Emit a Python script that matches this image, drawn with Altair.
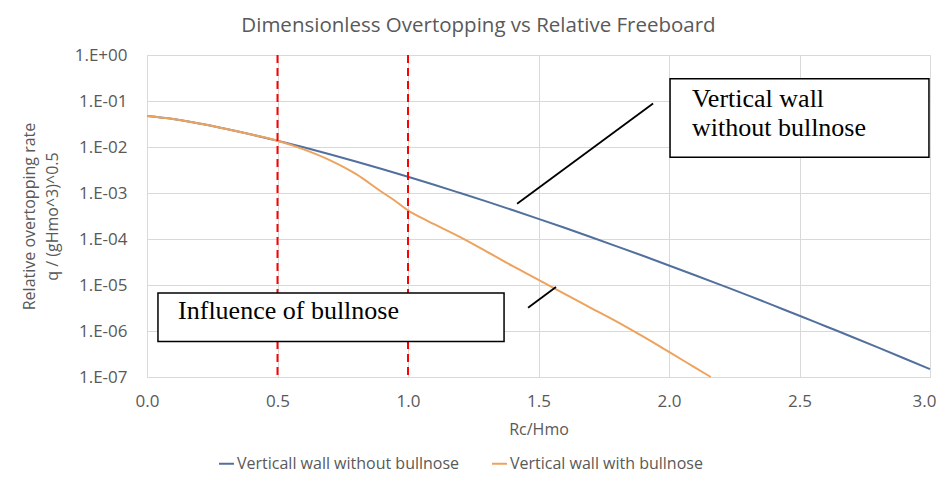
import altair as alt
import pandas as pd

# ---- data ----
rc_plain = [0.0, 0.1, 0.2, 0.3, 0.4, 0.5, 0.6, 0.7, 0.8, 0.9, 1.0, 1.1, 1.2, 1.3, 1.4, 1.5,
            1.6, 1.7, 1.8, 1.9, 2.0, 2.1, 2.2, 2.3, 2.4, 2.5, 2.6, 2.7, 2.8, 2.9, 3.0]
q_plain = [0.047, 0.0404, 0.0323, 0.0249, 0.01868, 0.0137, 0.00985, 0.00696, 0.00485, 0.00333,
           0.00226, 0.001515, 0.0010, 6.56e-4, 4.26e-4, 2.74e-4, 1.75e-4, 1.106e-4, 6.93e-5,
           4.31e-5, 2.66e-5, 1.63e-5, 9.93e-6, 6.03e-6, 3.6e-6, 2.15e-6, 1.27e-6, 7.51e-7,
           4.4e-7, 2.56e-7, 1.48e-7]

rc_bull = [0.0, 0.1, 0.2, 0.3, 0.4, 0.5, 0.6, 0.7, 0.8, 0.9, 0.95, 1.0, 1.05, 1.1, 1.2, 1.3,
           1.4, 1.5, 1.6, 1.7, 1.8, 1.9, 2.0, 2.1, 2.16]
q_bull = [0.047, 0.0404, 0.0323, 0.0249, 0.01868, 0.0137, 0.0089, 0.0052, 0.0026, 0.00105,
          0.00068, 0.00042, 0.00029, 0.00021, 1.1e-4, 5.4e-5, 2.6e-5, 1.3e-5, 6.4e-6, 3.2e-6,
          1.6e-6, 7.6e-7, 3.5e-7, 1.6e-7, 1.0e-7]

series_names = ["Verticall wall without bullnose", "Vertical wall with bullnose"]
series_colors = ["#52709e", "#eda35e"]

x_ticks = [0.0, 0.5, 1.0, 1.5, 2.0, 2.5, 3.0]
y_ticks = [1e-7, 1e-6, 1e-5, 1e-4, 1e-3, 1e-2, 1e-1, 1.0]

marker_rc = [0.5, 1.0]

# annotation boxes (data coordinates)
box_x = [2.004, 0.042]
box_x2 = [2.996, 1.368]
box_y = [0.304, 6.7e-6]
box_y2 = [6.0e-3, 5.9e-7]

note_text = ["Vertical wall", "without bullnose", "Influence of bullnose"]
note_x = [2.088, 2.088, 0.119]
note_y = [0.0759, 0.0171, 1.78e-6]

leader_x = [1.939, 1.460]
leader_x2 = [1.418, 1.567]
leader_y = [0.0879, 3.19e-6]
leader_y2 = [5.85e-4, 9.06e-6]

# ---- tables ----
df = pd.concat([
    pd.DataFrame({"rc": rc_plain, "q": q_plain, "series": series_names[0]}),
    pd.DataFrame({"rc": rc_bull, "q": q_bull, "series": series_names[1]}),
])
df_mark = pd.DataFrame({"rc": marker_rc})
df_box = pd.DataFrame({"x": box_x, "x2": box_x2, "y": box_y, "y2": box_y2})
df_note = pd.DataFrame({"x": note_x, "y": note_y, "t": note_text})
df_lead = pd.DataFrame({"x": leader_x, "x2": leader_x2, "y": leader_y, "y2": leader_y2})

GRAY = "#595959"
FONT = "Open Sans"

xscale = alt.Scale(domain=[0, 3], nice=False, zero=False)
yscale = alt.Scale(type="log", domain=[1e-7, 1], nice=False)

xaxis = alt.Axis(values=x_ticks, format=".1f", title="Rc/Hmo", grid=True, gridColor="#d9d9d9",
                 domain=False, ticks=False, labelPadding=16, labelFontSize=17, labelColor=GRAY,
                 labelFont=FONT, titleFont=FONT, titleFontSize=16, titleColor=GRAY,
                 titleFontWeight="normal", titlePadding=12, labelFlush=False,
                 labelAlign=alt.condition("datum.value >= 3", alt.value("right"), alt.value("center")),
                 labelOffset=alt.condition("datum.value >= 3", alt.value(6), alt.value(0)))
yaxis = alt.Axis(values=y_ticks,
                 labelExpr="datum.value >= 1 ? '1.E+00' : '1.E-0' + round(-log(datum.value)/LN10)",
                 title=["Relative overtopping rate", "q / (gHmo^3)^0.5"], grid=True,
                 gridColor="#d9d9d9", domain=False, ticks=False, labelPadding=20,
                 labelFontSize=17, labelColor=GRAY, labelFont=FONT, titleFont=FONT,
                 titleFontSize=16, titleColor=GRAY, titleFontWeight="normal", titlePadding=14,
                 titleLineHeight=23, labelFlush=False)

lines = alt.Chart(df).mark_line(strokeWidth=2, interpolate="monotone").encode(
    x=alt.X("rc:Q", scale=xscale, axis=xaxis),
    y=alt.Y("q:Q", scale=yscale, axis=yaxis),
    color=alt.Color("series:N", scale=alt.Scale(domain=series_names, range=series_colors),
                    sort=series_names,
                    legend=alt.Legend(orient="none", legendX=71, legendY=400,
                                      direction="horizontal", title=None, symbolType="stroke",
                                      symbolSize=225, symbolStrokeWidth=2, labelFontSize=16,
                                      labelColor=GRAY, labelFont=FONT, columnPadding=28,
                                      labelOffset=2, labelLimit=0)),
    order=alt.Order("rc:Q"),
)

redlines = alt.Chart(df_mark).mark_rule(color="#ff0000", strokeWidth=2, strokeDash=[8, 5]).encode(
    x=alt.X("rc:Q", scale=xscale),
)

boxes = alt.Chart(df_box).mark_rect(fill="white", stroke="black", strokeWidth=1.5).encode(
    x=alt.X("x:Q", scale=xscale), x2="x2:Q",
    y=alt.Y("y:Q", scale=yscale), y2="y2:Q",
)

notes = alt.Chart(df_note).mark_text(font="Liberation Serif", fontSize=26, color="black",
                                     align="left", baseline="alphabetic").encode(
    x=alt.X("x:Q", scale=xscale), y=alt.Y("y:Q", scale=yscale), text="t:N",
)

leaders = alt.Chart(df_lead).mark_rule(color="black", strokeWidth=1.8).encode(
    x=alt.X("x:Q", scale=xscale), x2="x2:Q",
    y=alt.Y("y:Q", scale=yscale), y2="y2:Q",
)

chart = alt.layer(lines, redlines, boxes, notes, leaders).properties(
    width=783, height=322,
    autosize=alt.AutoSizeParams(type="none"),
    padding={"left": 139, "top": 47, "right": 6, "bottom": 96},
    title=alt.TitleParams("Dimensionless Overtopping vs Relative Freeboard", font=FONT,
                          fontSize=20.5, fontWeight="normal", color=GRAY, anchor="middle",
                          dx=-60, offset=10),
).configure_view(strokeWidth=0).configure(background="white")

chart.save("out.html", embed_options={"renderer": "svg", "actions": False})
